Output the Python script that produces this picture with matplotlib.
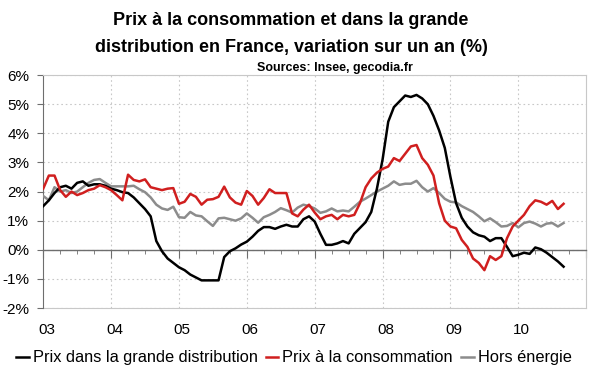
import matplotlib.pyplot as plt
from matplotlib.ticker import MultipleLocator, FixedLocator
import numpy as np

# monthly data, Jan 2003 -> Sep 2010 (year-on-year change, %)
grande_distribution = [
    1.5, 1.7, 1.95, 2.15, 2.2, 2.1, 2.3, 2.35, 2.2, 2.25, 2.25, 2.2,
    2.1, 2.05, 1.98, 1.95, 1.8, 1.6, 1.4, 1.15, 0.3, -0.05, -0.3, -0.45,
    -0.6, -0.7, -0.85, -0.95, -1.05, -1.05, -1.05, -1.05, -0.25, -0.05, 0.05, 0.18,
    0.28, 0.45, 0.65, 0.78, 0.78, 0.72, 0.8, 0.86, 0.8, 0.8, 1.05, 1.15,
    0.97, 0.55, 0.17, 0.17, 0.22, 0.3, 0.22, 0.55, 0.75, 0.95, 1.3, 2.1,
    3.1, 4.4, 4.9, 5.1, 5.3, 5.25, 5.32, 5.2, 5.0, 4.6, 4.1, 3.5,
    2.5, 1.6, 1.1, 0.8, 0.6, 0.5, 0.45, 0.3, 0.4, 0.4, 0.1, -0.22,
    -0.17, -0.1, -0.14, 0.08, 0.02, -0.1, -0.25, -0.4, -0.58,
]
consommation = [
    2.1, 2.55, 2.55, 2.05, 1.82, 2.0, 1.88, 1.95, 2.05, 2.1, 2.22, 2.15,
    2.05, 1.88, 1.7, 2.58, 2.4, 2.35, 2.42, 2.15, 2.1, 2.05, 2.1, 2.12,
    1.58, 1.65, 1.92, 1.82, 1.55, 1.72, 1.74, 1.82, 2.17, 1.8, 1.62, 1.55,
    2.02, 1.85, 1.55, 1.78, 2.08, 1.95, 1.95, 1.95, 1.25, 1.15, 1.38, 1.55,
    1.28, 1.05, 1.15, 1.2, 1.05, 1.2, 1.15, 1.2, 1.6, 2.15, 2.45, 2.65,
    2.78, 2.86, 3.15, 3.05, 3.3, 3.55, 3.6, 3.15, 2.92, 2.55, 1.6, 1.0,
    0.8, 0.74, 0.34, 0.1, -0.3, -0.45, -0.7, -0.22, -0.35, -0.22, 0.4, 0.8,
    1.0, 1.2, 1.5, 1.7, 1.65, 1.55, 1.68, 1.4, 1.58,
]
hors_energie = [
    1.85, 1.7, 2.15, 2.0, 2.05, 1.95, 2.0, 2.15, 2.3, 2.4, 2.43, 2.3,
    2.18, 2.18, 2.18, 2.18, 2.2, 2.08, 1.98, 1.8, 1.55, 1.42, 1.37, 1.48,
    1.12, 1.1, 1.3, 1.18, 1.15, 0.98, 0.82, 1.08, 1.1, 1.05, 1.0, 1.08,
    1.25, 1.1, 0.93, 1.12, 1.2, 1.3, 1.43, 1.36, 1.28, 1.45, 1.55, 1.5,
    1.42, 1.27, 1.32, 1.42, 1.32, 1.35, 1.32, 1.48, 1.65, 1.76, 1.88, 2.0,
    2.1, 2.2, 2.35, 2.23, 2.27, 2.27, 2.37, 2.15, 2.0, 2.12, 1.95, 1.75,
    1.65, 1.63, 1.5, 1.4, 1.3, 1.15, 0.98, 1.08, 0.95, 0.8, 0.82, 0.92,
    0.77, 0.92, 0.97, 0.9, 0.8, 0.9, 0.92, 0.8, 0.92,
]
years = [2003, 2004, 2005, 2006, 2007, 2008, 2009, 2010]
year_labels = ['03', '04', '05', '06', '07', '08', '09', '10']

x = 2003 + np.arange(len(grande_distribution)) / 12

plt.rcParams['font.family'] = ['Liberation Sans', 'DejaVu Sans']

fig = plt.figure(figsize=(6, 3.72), dpi=100)
ax = fig.add_axes([0.072, 0.172, 0.905, 0.626])

grid_col = '#c8c8c8'
axis_col = '#6e6e6e'

ax.plot(x, hors_energie, color='#8c8c8c', lw=1.8, label='Hors énergie', zorder=3)
ax.plot(x, grande_distribution, color='black', lw=1.8,
        label='Prix dans la grande distribution', zorder=4)
ax.plot(x, consommation, color='#d01f1f', lw=1.8,
        label='Prix à la consommation', zorder=5)

ax.set_xlim(2003, 2011)
ax.set_ylim(-2, 6)

# y axis
ax.set_yticks(range(-2, 7))
ax.set_yticklabels([f'{v}%' for v in range(-2, 7)], fontsize=11)
ax.tick_params(axis='y', direction='out', length=4, color=axis_col, pad=6)
ax.grid(True, axis='y', linestyle=(0, (1.5, 2.5)), color=grid_col, lw=0.8)

# vertical year grid lines
for yr in years[1:]:
    ax.axvline(yr, linestyle=(0, (1.5, 2.5)), color=grid_col, lw=0.8, zorder=1)

# x axis sitting on the zero line, quarterly ticks
ax.spines['bottom'].set_position(('data', 0))
ax.spines['bottom'].set_color(axis_col)
ax.spines['bottom'].set_linewidth(1.0)
ax.xaxis.set_major_locator(FixedLocator(years + [2011]))
ax.xaxis.set_minor_locator(MultipleLocator(0.25))
ax.tick_params(axis='x', which='major', direction='out', length=6, color=axis_col,
               labelbottom=False)
ax.tick_params(axis='x', which='minor', direction='out', length=3, color=axis_col)

ax.spines['left'].set_color(axis_col)
for side in ['top', 'right']:
    ax.spines[side].set_color(grid_col)

# year labels along the bottom frame
sec = ax.secondary_xaxis('bottom')
sec.set_xticks([yr + 0.05 for yr in years])
sec.set_xticklabels(year_labels, fontsize=11)
sec.tick_params(length=0, pad=11)
sec.spines['bottom'].set_color(grid_col)

fig.text(0.485, 0.945, 'Prix à la consommation et dans la grande', ha='center',
         va='center', fontsize=13, fontweight='bold')
fig.text(0.485, 0.872, 'distribution en France, variation sur un an (%)', ha='center',
         va='center', fontsize=13, fontweight='bold')
fig.text(0.558, 0.818, 'Sources: Insee, gecodia.fr', ha='center', va='center',
         fontsize=9, fontweight='bold')

handles, labels = ax.get_legend_handles_labels()
order = [1, 2, 0]
fig.legend([handles[i] for i in order], [labels[i] for i in order],
           loc='center', bbox_to_anchor=(0.49, 0.038), ncol=3, frameon=False,
           fontsize=11.8, handlelength=0.75, handletextpad=0.25, columnspacing=0.5,
           borderpad=0, borderaxespad=0)

fig.savefig('out.png', dpi=100)
